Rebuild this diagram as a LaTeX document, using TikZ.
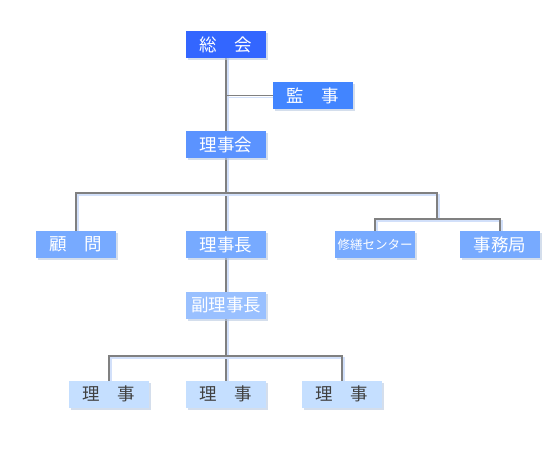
\documentclass[tikz,border=0pt]{standalone}
\usepackage{fontspec}
\setmainfont{Noto Sans CJK JP}
\usetikzlibrary{shadows}
\definecolor{c1}{HTML}{3366FF}
\definecolor{c2}{HTML}{4285FF}
\definecolor{c3}{HTML}{5B93FF}
\definecolor{c4}{HTML}{77AAFF}
\definecolor{c5}{HTML}{99C0FF}
\definecolor{c6}{HTML}{C5DFFF}
\definecolor{linegrey}{HTML}{808080}
\definecolor{lineshadow}{HTML}{D2E0FA}
\definecolor{boxshadow}{HTML}{B8C8E0}
\definecolor{darktext}{HTML}{404040}
\tikzset{
  orgbox/.style={minimum width=80pt, minimum height=27pt, inner sep=0pt,
    text=white, font=\fontsize{17.5}{18}\selectfont,
    drop shadow={shadow xshift=2pt, shadow yshift=-2pt, fill=boxshadow, opacity=0.6}},
  conn/.style={draw=linegrey, line width=1.6pt,
    preaction={draw=lineshadow, line width=1.6pt, transform canvas={xshift=2pt,yshift=-2pt}}}
}
\begin{document}
\begin{tikzpicture}[x=1pt,y=-1pt]
\useasboundingbox (0,0) rectangle (550,450);
% connectors first
\coordinate (b1) at (226,95.5);
\coordinate (b2) at (437,193);
\coordinate (b3) at (437,219);
\coordinate (b4) at (226,356);
\coordinate (t1) at (226,44.5);
\coordinate (t2) at (226,144.5);
\coordinate (t3) at (226,244.5);
\coordinate (t4) at (226,305);
\coordinate (t5) at (226,394);
\coordinate (kw) at (273,95.5);
\coordinate (k1) at (76,244.5);
\coordinate (s1) at (375,244.5);
\coordinate (j1) at (500,244.5);
\coordinate (r1c) at (109,394);
\coordinate (r3c) at (342,394);
\draw[conn] (t1) -- (t5);
\draw[conn] (b1) -- (kw);
\draw[conn] (k1) |- (b2) -- (b3);
\draw[conn] (s1) |- (b3) -| (j1);
\draw[conn] (r1c) |- (b4) -| (r3c);
% nodes
\node[orgbox, fill=c1] (soukai) at (t1) {総　会};
\node[orgbox, fill=c2] (kanji) at (313,95.5) {監　事};
\node[orgbox, fill=c3] (rijikai) at (t2) {理事会};
\node[orgbox, fill=c4] (komon) at (k1) {顧　問};
\node[orgbox, fill=c4] (rijicho) at (t3) {理事長};
\node[orgbox, fill=c4, font=\fontsize{12.5}{13}\selectfont] (shuzen) at (s1) {修繕センター};
\node[orgbox, fill=c4] (jimu) at (j1) {事務局};
\node[orgbox, fill=c5] (fuku) at (t4) {副理事長};
\node[orgbox, fill=c6, text=darktext] (r1) at (r1c) {理　事};
\node[orgbox, fill=c6, text=darktext] (r2) at (t5) {理　事};
\node[orgbox, fill=c6, text=darktext] (r3) at (r3c) {理　事};
\end{tikzpicture}
\end{document}
